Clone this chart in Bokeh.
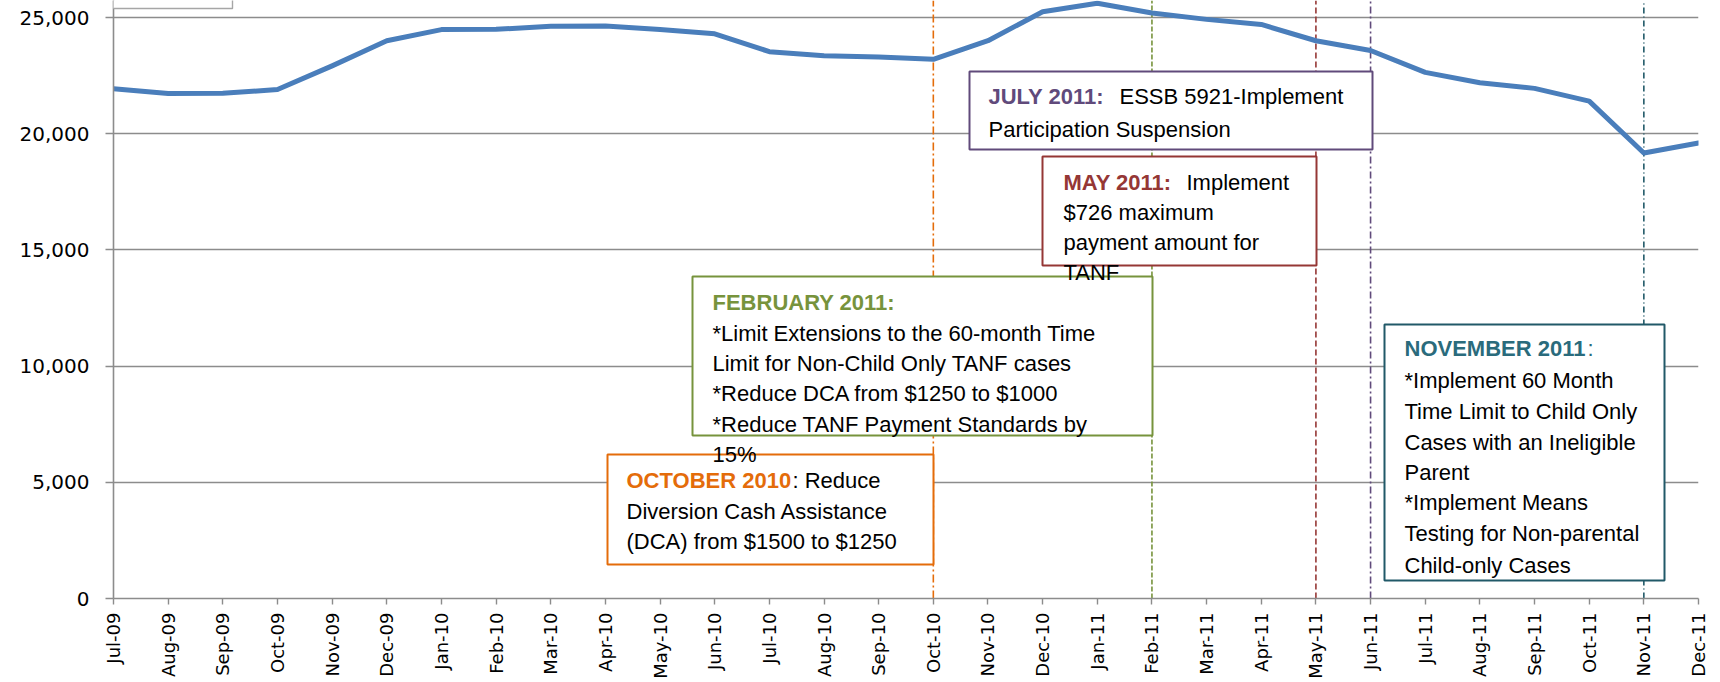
import math
from bokeh.plotting import figure
from bokeh.models import Range1d, FixedTicker, Label
from bokeh.core.properties import value
from bokeh.embed import file_html
from bokeh.resources import INLINE

# ---------------- data ----------------
months = ["Jul-09", "Aug-09", "Sep-09", "Oct-09", "Nov-09", "Dec-09",
          "Jan-10", "Feb-10", "Mar-10", "Apr-10", "May-10", "Jun-10",
          "Jul-10", "Aug-10", "Sep-10", "Oct-10", "Nov-10", "Dec-10",
          "Jan-11", "Feb-11", "Mar-11", "Apr-11", "May-11", "Jun-11",
          "Jul-11", "Aug-11", "Sep-11", "Oct-11", "Nov-11", "Dec-11"]
cases = [21930, 21730, 21740, 21900, 22920, 24000,
         24480, 24490, 24620, 24630, 24480, 24300,
         23530, 23350, 23300, 23200, 24000, 25250,
         25610, 25190, 24920, 24700, 24000, 23580,
         22640, 22190, 21950, 21400, 19170, 19600]
y_ticks = [0, 5000, 10000, 15000, 20000, 25000]
y_tick_labels = ["0", "5,000", "10,000", "15,000", "20,000", "25,000"]

event_months = ["Oct-10", "Feb-11", "May-11", "Jun-11", "Nov-11"]
event_colors = ["#E46C0A", "#77933C", "#953735", "#604A7B", "#215968"]
event_dashes = ["8 3 2 3", "5 2", "6 3", "7 3 2 3", "6 3 1 3"]

# ---------------- layout (pixels) ----------------
W = 1712
FL, FR, FT, FB = 113, 1698, 0, 598
ymax = 25000 * (FB - FT) / (FB - 17)
nx = len(months) - 1

def dx(px):
    return (px - FL) / (FR - FL) * nx

def dy(py):
    return (FB - py) / (FB - FT) * ymax

p = figure(frame_width=FR - FL, frame_height=FB - FT,
           output_backend="svg", toolbar_location=None,
           x_range=Range1d(0, nx), y_range=Range1d(0, ymax),
           min_border_left=FL, min_border_right=W - FR,
           min_border_top=FT, min_border_bottom=70)
p.outline_line_color = None
p.background_fill_color = "white"
p.border_fill_color = "white"

# grid
p.xgrid.visible = False
p.ygrid.ticker = FixedTicker(ticks=y_ticks)
p.ygrid.grid_line_color = "#8C8C8C"
p.ygrid.grid_line_width = 1.4

# axes
p.yaxis.ticker = FixedTicker(ticks=y_ticks)
p.yaxis.major_label_overrides = {t: l for t, l in zip(y_ticks, y_tick_labels)}
p.yaxis.major_label_text_font = "DejaVu Sans"
p.yaxis.major_label_text_font_size = "20px"
p.yaxis.major_label_text_color = "#000000"
p.yaxis.major_tick_out = 8
p.yaxis.major_tick_in = 0
p.yaxis.minor_tick_line_color = None
p.yaxis.major_label_standoff = 16
p.yaxis.axis_line_color = "#8C8C8C"
p.yaxis.axis_line_width = 1.6
p.yaxis.major_tick_line_color = "#8C8C8C"
p.yaxis.major_tick_line_width = 1.4

p.xaxis.ticker = FixedTicker(ticks=list(range(len(months))))
p.xaxis.major_label_overrides = {i: m for i, m in enumerate(months)}
p.xaxis.major_label_orientation = math.pi / 2
p.xaxis.major_label_text_font = "DejaVu Sans"
p.xaxis.major_label_text_font_size = "18px"
p.xaxis.major_label_text_color = "#000000"
p.xaxis.major_tick_out = 6
p.xaxis.major_tick_in = 0
p.xaxis.minor_tick_line_color = None
p.xaxis.major_label_standoff = 8
p.xaxis.axis_line_color = "#8C8C8C"
p.xaxis.axis_line_width = 1.6
p.xaxis.major_tick_line_color = "#8C8C8C"
p.xaxis.major_tick_line_width = 1.4

# vertical event lines (drawn as glyphs so boxes can cover them)
for m, c, d in zip(event_months, event_colors, event_dashes):
    xi = months.index(m)
    p.segment(x0=[xi], y0=[0], x1=[xi], y1=[ymax], line_color=c,
              line_width=1.6, line_dash=d)

# caseload line
p.line(list(range(len(months))), cases, line_color="#4A7EBB", line_width=5,
       line_join="round", line_cap="round")

# annotation boxes: left, right, top, bottom (px), border colour
boxes = [
    (607, 933, 454, 564, "#E46C0A"),
    (692, 1152, 276, 435, "#77933C"),
    (969, 1372, 71, 149, "#604A7B"),
    (1042, 1316, 156, 265, "#953735"),
    (1384, 1664, 324, 580, "#215968"),
]

FONT = value("Liberation Sans")
FS = "22px"

texts = {
    "#E46C0A": [(626, 480, "OCTOBER 2010", "#E46C0A", "bold"),
                (792, 480, ": Reduce", "#000000", "normal"),
                (626, 511, "Diversion Cash Assistance", "#000000", "normal"),
                (626, 541, "(DCA) from $1500 to $1250", "#000000", "normal")],
    "#77933C": [(712, 302, "FEBRUARY 2011:", "#77933C", "bold"),
                (712, 333, "*Limit Extensions to the 60-month Time", "#000000", "normal"),
                (712, 363, "Limit for Non-Child Only TANF cases", "#000000", "normal"),
                (712, 393, "*Reduce DCA from $1250 to $1000", "#000000", "normal"),
                (712, 424, "*Reduce TANF Payment Standards by", "#000000", "normal"),
                (712, 454, "15%", "#000000", "normal")],
    "#604A7B": [(988, 96, "JULY 2011:", "#604A7B", "bold"),
                (1119, 96, "ESSB 5921-Implement", "#000000", "normal"),
                (988, 129, "Participation Suspension", "#000000", "normal")],
    "#953735": [(1063, 182, "MAY 2011:", "#953735", "bold"),
                (1186, 182, "Implement", "#000000", "normal"),
                (1063, 212, "$726 maximum", "#000000", "normal"),
                (1063, 242, "payment amount for", "#000000", "normal"),
                (1063, 272, "TANF", "#000000", "normal")],
    "#215968": [(1404, 348, "NOVEMBER 2011", "#2A6B7C", "bold"),
                (1587, 348, ":", "#2A6B7C", "normal"),
                (1404, 380, "*Implement 60 Month", "#000000", "normal"),
                (1404, 411, "Time Limit to Child Only", "#000000", "normal"),
                (1404, 442, "Cases with an Ineligible", "#000000", "normal"),
                (1404, 472, "Parent", "#000000", "normal"),
                (1404, 502, "*Implement Means", "#000000", "normal"),
                (1404, 533, "Testing for Non-parental", "#000000", "normal"),
                (1404, 565, "Child-only Cases", "#000000", "normal")],
}

for (l, r, t, b, c) in boxes:
    p.quad(left=[dx(l)], right=[dx(r)], top=[dy(t)], bottom=[dy(b)],
           fill_color="white", line_color=c, line_width=2)
    for (xp, yp, s, col, style) in texts[c]:
        p.text(x=[dx(xp)], y=[dy(yp)], text=[s], text_color=col,
               text_font=FONT, text_font_size=FS, text_font_style=style,
               text_baseline="middle", text_align="left")

# partially visible box at the top-left corner
corner = Label(x=232, y=8, x_units="canvas", y_units="canvas",
               anchor="bottom_right", text="\u2003" * 10,
               text_font="DejaVu Sans", text_font_size="25px",
               padding=0, background_fill_color="white",
               border_line_color="#A6A6A6", border_line_width=1.4)
p.add_layout(corner)

open("out.html", "w").write(file_html(p, INLINE))
